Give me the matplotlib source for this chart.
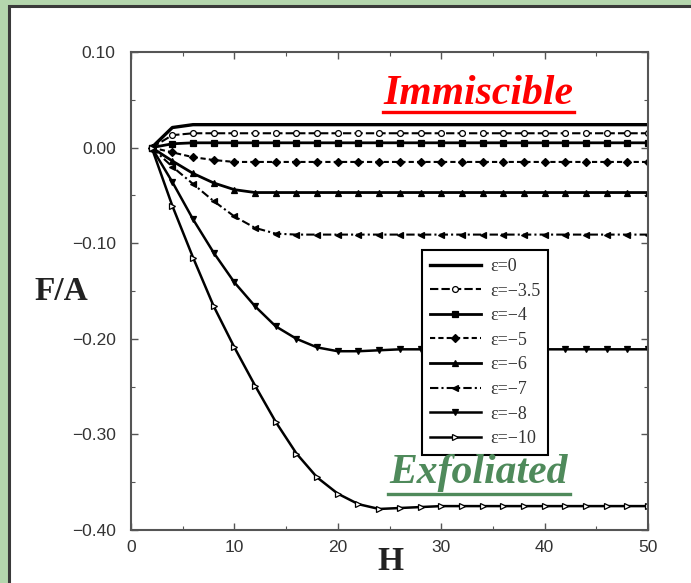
import matplotlib
matplotlib.use("Agg")
import matplotlib.pyplot as plt
from matplotlib.patches import Rectangle
from matplotlib.lines import Line2D

# H grid where the markers sit (every 2 units)
H = [2, 4, 6, 8, 10, 12, 14, 16, 18, 20, 22, 24, 26,
     28, 30, 32, 34, 36, 38, 40, 42, 44, 46, 48, 50]

eps_labels = ["ε=0", "ε=−3.5", "ε=−4", "ε=−5", "ε=−6", "ε=−7", "ε=−8", "ε=−10"]

f_eps0 = [0.0, 0.021, 0.024, 0.024, 0.024, 0.024, 0.024, 0.024, 0.024, 0.024, 0.024, 0.024, 0.024,
          0.024, 0.024, 0.024, 0.024, 0.024, 0.024, 0.024, 0.024, 0.024, 0.024, 0.024, 0.024]
f_eps35 = [0.0, 0.013, 0.015, 0.015, 0.015, 0.015, 0.015, 0.015, 0.015, 0.015, 0.015, 0.015, 0.015,
           0.015, 0.015, 0.015, 0.015, 0.015, 0.015, 0.015, 0.015, 0.015, 0.015, 0.015, 0.015]
f_eps4 = [0.0, 0.004, 0.005, 0.005, 0.005, 0.005, 0.005, 0.005, 0.005, 0.005, 0.005, 0.005, 0.005,
          0.005, 0.005, 0.005, 0.005, 0.005, 0.005, 0.005, 0.005, 0.005, 0.005, 0.005, 0.005]
f_eps5 = [0.0, -0.005, -0.010, -0.013, -0.015, -0.015, -0.015, -0.015, -0.015, -0.015, -0.015, -0.015, -0.015,
          -0.015, -0.015, -0.015, -0.015, -0.015, -0.015, -0.015, -0.015, -0.015, -0.015, -0.015, -0.015]
f_eps6 = [0.0, -0.014, -0.027, -0.037, -0.044, -0.047, -0.047, -0.047, -0.047, -0.047, -0.047, -0.047, -0.047,
          -0.047, -0.047, -0.047, -0.047, -0.047, -0.047, -0.047, -0.047, -0.047, -0.047, -0.047, -0.047]
f_eps7 = [0.0, -0.020, -0.038, -0.056, -0.072, -0.084, -0.090, -0.091, -0.091, -0.091, -0.091, -0.091, -0.091,
          -0.091, -0.091, -0.091, -0.091, -0.091, -0.091, -0.091, -0.091, -0.091, -0.091, -0.091, -0.091]
f_eps8 = [0.0, -0.036, -0.075, -0.110, -0.141, -0.166, -0.187, -0.200, -0.209, -0.213, -0.213, -0.212, -0.211,
          -0.211, -0.211, -0.211, -0.211, -0.211, -0.211, -0.211, -0.211, -0.211, -0.211, -0.211, -0.211]
f_eps10 = [0.0, -0.061, -0.115, -0.166, -0.209, -0.249, -0.287, -0.320, -0.345, -0.362, -0.373, -0.378, -0.377,
           -0.376, -0.375, -0.375, -0.375, -0.375, -0.375, -0.375, -0.375, -0.375, -0.375, -0.375, -0.375]

series = [f_eps0, f_eps35, f_eps4, f_eps5, f_eps6, f_eps7, f_eps8, f_eps10]

# style per curve: linestyle, marker, fill, linewidth
styles = [
    ("-", None, "k", 2.4),
    ((0, (4, 1.5)), "o", "white", 1.5),
    ("-", "s", "k", 2.0),
    ((0, (2.5, 1.5)), "D", "k", 1.5),
    ("-", "^", "k", 2.0),
    ((0, (4, 1.5, 1, 1.5)), "<", "k", 1.5),
    ("-", "v", "k", 1.8),
    ("-", ">", "white", 1.8),
]

fig = plt.figure(figsize=(6.91, 5.83), dpi=100)
fig.patch.set_facecolor("#b4d6ad")

# white slide panel behind everything
bg = fig.add_axes([0, 0, 1, 1], zorder=-5)
bg.set_axis_off()
bg.set_xlim(0, 691)
bg.set_ylim(583, 0)
bg.add_patch(Rectangle((9, 6), 720, 620, facecolor="white",
                       edgecolor="#3a3a3a", linewidth=2.2))

ax = fig.add_axes([131 / 691, 1 - 530 / 583, 517 / 691, 478 / 583], zorder=1)
ax.set_facecolor("white")

for f, lab, (ls, mk, fc, lw) in zip(series, eps_labels, styles):
    ax.plot(H, f, linestyle=ls, color="k", linewidth=lw, marker=mk,
            markersize=4.2, markerfacecolor=fc, markeredgecolor="k",
            markeredgewidth=0.9, label=lab)

ax.set_xlim(0, 50)
ax.set_ylim(-0.40, 0.10)
ax.set_xticks([0, 10, 20, 30, 40, 50])
ax.set_xticks([5, 15, 25, 35, 45], minor=True)
ax.set_yticks([-0.40, -0.30, -0.20, -0.10, 0.00, 0.10])
ax.set_yticks([-0.35, -0.25, -0.15, -0.05, 0.05], minor=True)
ax.set_yticklabels(["−0.40", "−0.30", "−0.20", "−0.10", "0.00", "0.10"])
ax.tick_params(which="both", direction="in", top=True, right=True,
               colors="#555555", labelcolor="#333333")
ax.tick_params(which="major", length=5, width=1.0, labelsize=12.5)
ax.tick_params(axis="y", which="major", pad=11)
ax.tick_params(axis="x", which="major", pad=7)
ax.tick_params(which="minor", length=3, width=0.8)
for lab in ax.get_xticklabels() + ax.get_yticklabels():
    lab.set_family("Liberation Sans")
for sp in ax.spines.values():
    sp.set_color("#555555")
    sp.set_linewidth(1.5)

leg = ax.legend(loc="upper left", bbox_to_anchor=(0.563, 0.586), borderaxespad=0,
                prop={"family": ["Liberation Serif", "DejaVu Serif"], "size": 13},
                handlelength=2.8, labelspacing=0.42, fancybox=False, framealpha=1,
                frameon=True, edgecolor="k", borderpad=0.45, handletextpad=0.5)
leg.get_frame().set_linewidth(1.5)
for t in leg.get_texts():
    t.set_color("#333333")

serif = ["Liberation Serif", "DejaVu Serif"]
fig.text(61 / 691, 1 - 292 / 583, "F/A", ha="center", va="center",
         family=serif, fontweight="bold", fontsize=24, color="#222222")
fig.text(390 / 691, 1 - 562 / 583, "H", ha="center", va="center",
         family=serif, fontweight="bold", fontsize=24, color="#222222")

# annotations with underline
red = "#ff0000"
green = "#4f8a5b"
fig.text(478 / 691, 1 - 104 / 583, "Immiscible", ha="center", va="baseline",
         family=serif, fontweight="bold", style="italic", fontsize=30, color=red)
fig.lines.append(Line2D([383 / 691, 574 / 691], [1 - 112 / 583, 1 - 112 / 583],
                        transform=fig.transFigure, color=red, linewidth=2.4))
fig.text(479 / 691, 1 - 483 / 583, "Exfoliated", ha="center", va="baseline",
         family=serif, fontweight="bold", style="italic", fontsize=30, color=green)
fig.lines.append(Line2D([388 / 691, 570 / 691], [1 - 494 / 583, 1 - 494 / 583],
                        transform=fig.transFigure, color=green, linewidth=2.4))

fig.savefig("out.png", dpi=100, facecolor=fig.get_facecolor())
